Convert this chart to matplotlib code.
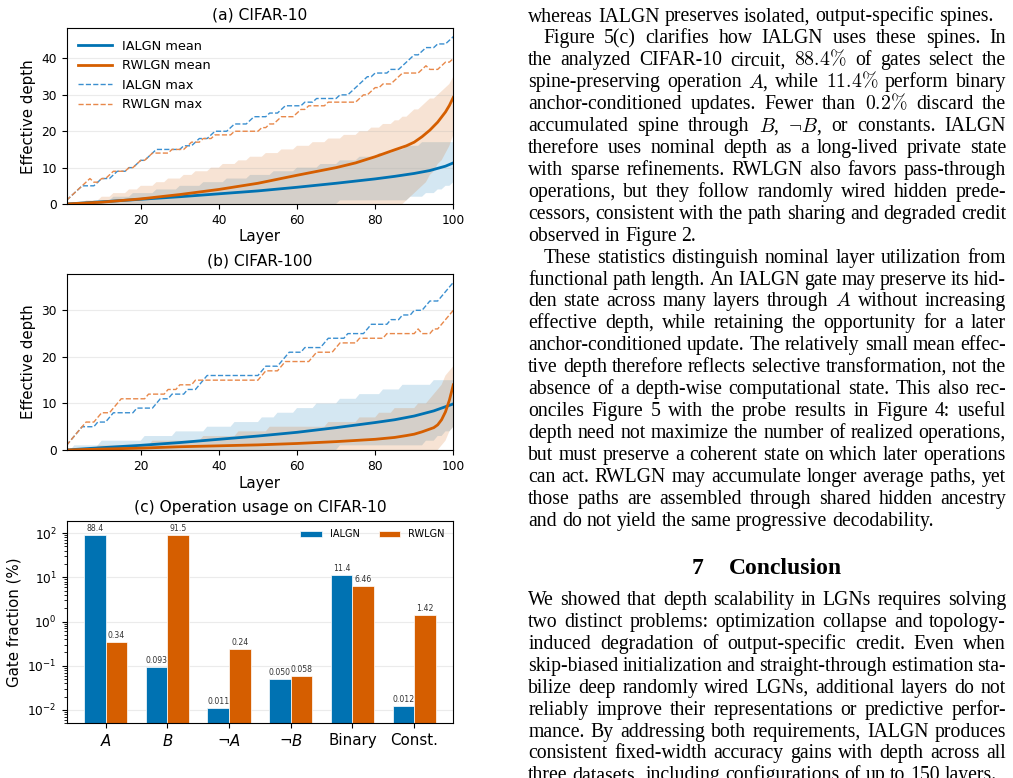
import matplotlib
matplotlib.use('Agg')
import matplotlib.pyplot as plt

W, H = 1013, 778
BLUE = '#0072B2'
ORANGE = '#D55E00'

# ---- (a) CIFAR-10 : effective depth per layer, (layer, value) points
ialgn_mean_a = [(1, 0), (10, 0.6), (20, 1.3), (30, 2.0), (40, 2.8), (50, 3.6), (60, 4.6), (70, 5.7),
                (80, 6.9), (85, 7.6), (90, 8.4), (94, 9.2), (96, 9.8), (98, 10.4), (100, 11.3)]
rwlgn_mean_a = [(1, 0), (10, 0.5), (20, 1.4), (30, 2.6), (40, 4.0), (50, 5.7), (60, 7.9), (70, 10.0),
                (75, 11.3), (80, 13.0), (85, 14.9), (88, 16.0), (90, 17.0), (92, 18.5), (94, 20.3),
                (96, 22.5), (97, 23.9), (98, 25.3), (99, 27.1), (100, 29.3)]
ialgn_max_a = [(1, 1), (2, 2), (3, 3), (4, 4), (5, 5), (8, 5), (9, 6), (10, 7), (12, 7), (13, 8), (14, 9),
               (16, 9), (17, 10), (18, 10), (19, 11), (20, 12), (21, 12), (22, 13), (23, 14), (24, 15),
               (30, 15), (31, 16), (33, 16), (34, 17), (35, 18), (37, 18), (38, 19), (39, 20), (42, 20),
               (43, 21), (44, 22), (47, 22), (48, 23), (49, 24), (52, 24), (53, 25), (55, 25), (56, 26),
               (57, 27), (61, 27), (62, 28), (64, 28), (65, 29), (70, 29), (71, 30), (73, 30), (74, 31),
               (75, 32), (76, 33), (77, 34), (78, 35), (79, 35), (80, 36), (83, 36), (84, 37), (86, 37),
               (87, 38), (88, 39), (89, 40), (90, 41), (91, 41), (92, 42), (93, 43), (95, 43), (96, 44),
               (98, 44), (99, 45), (100, 46)]
rwlgn_max_a = [(1, 1), (2, 2), (3, 3), (4, 4), (5, 5), (6, 6), (7, 7), (8, 6), (9, 6), (10, 7), (11, 7),
               (12, 8), (13, 9), (16, 9), (17, 10), (18, 10), (19, 11), (20, 12), (21, 12), (22, 13),
               (23, 14), (27, 14), (28, 15), (31, 15), (32, 16), (33, 17), (35, 17), (36, 18), (38, 18),
               (39, 19), (43, 19), (44, 20), (50, 20), (51, 21), (52, 21), (53, 22), (54, 22), (55, 23),
               (56, 24), (59, 24), (60, 25), (61, 26), (62, 26), (63, 27), (67, 27), (68, 28), (75, 28),
               (76, 29), (77, 30), (78, 30), (79, 31), (80, 32), (81, 32), (82, 33), (84, 33), (85, 34),
               (86, 35), (87, 36), (91, 36), (92, 37), (93, 38), (94, 37), (96, 37), (97, 38), (98, 39),
               (99, 39), (100, 40)]
ialgn_hi_a = [(1, 0), (7, 0), (8, 1), (12, 1), (13, 2), (17, 2), (18, 3), (23, 3), (24, 4), (29, 4), (30, 5),
              (35, 5), (36, 6), (41, 6), (42, 7), (47, 7), (48, 8), (53, 8), (54, 9), (59, 9), (60, 10),
              (65, 10), (66, 11), (70, 11), (71, 12), (75, 12), (76, 13), (80, 13), (81, 14), (84, 14),
              (85, 15), (87, 15), (88, 16), (91, 16), (92, 17), (100, 17)]
ialgn_lo_a = [(1, 0), (70, 0), (71, 1), (88, 1), (89, 2), (92, 2), (93, 3), (95, 3), (96, 4), (97, 4),
              (98, 5), (99, 5), (100, 6)]
rwlgn_hi_a = [(1, 0), (5, 0), (6, 1), (9, 1), (10, 2), (12, 2), (13, 3), (16, 3), (17, 4), (19, 4), (20, 5),
              (23, 5), (24, 6), (26, 6), (27, 7), (30, 7), (31, 8), (33, 8), (34, 9), (37, 9), (38, 10),
              (40, 10), (41, 11), (44, 11), (45, 12), (47, 12), (48, 13), (51, 13), (52, 14), (55, 14),
              (56, 15), (59, 15), (60, 16), (63, 16), (64, 17), (67, 17), (68, 18), (71, 18), (72, 19),
              (75, 19), (76, 20), (78, 20), (79, 21), (81, 21), (82, 22), (84, 22), (85, 23), (86, 23),
              (87, 24), (88, 24), (89, 25), (90, 26), (91, 26), (92, 27), (93, 28), (94, 29), (95, 29),
              (96, 30), (97, 31), (98, 32), (99, 33), (100, 35)]
rwlgn_lo_a = [(1, 0), (87, 0), (88, 1), (89, 2), (90, 3), (91, 4), (92, 5), (93, 6), (94, 8), (95, 9),
              (96, 11), (97, 12), (98, 14), (99, 16), (100, 19)]

# ---- (b) CIFAR-100
ialgn_mean_b = [(1, 0), (10, 0.5), (20, 1.0), (30, 1.6), (40, 2.3), (50, 3.0), (60, 3.8), (70, 4.8),
                (80, 5.9), (85, 6.5), (90, 7.3), (95, 8.4), (100, 9.9)]
rwlgn_mean_b = [(1, 0), (10, 0.2), (20, 0.4), (30, 0.7), (40, 0.9), (50, 1.1), (60, 1.4), (70, 1.8),
                (80, 2.3), (85, 2.7), (88, 3.1), (90, 3.4), (92, 3.9), (93, 4.2), (95, 4.8), (96, 5.4),
                (97, 6.5), (98, 8.2), (99, 10.7), (100, 14.0)]
ialgn_max_b = [(1, 1), (2, 2), (3, 3), (4, 4), (5, 5), (8, 5), (9, 6), (11, 6), (12, 7), (13, 8), (18, 8),
               (19, 9), (23, 9), (24, 10), (25, 11), (27, 11), (28, 12), (31, 12), (32, 13), (34, 13),
               (35, 14), (36, 15), (37, 16), (50, 16), (51, 17), (52, 18), (55, 18), (56, 19), (57, 20),
               (58, 21), (61, 21), (62, 22), (66, 22), (67, 23), (68, 24), (72, 24), (73, 25), (77, 25),
               (78, 26), (79, 27), (83, 27), (84, 28), (86, 28), (87, 29), (89, 29), (90, 30), (92, 30),
               (93, 31), (94, 32), (96, 32), (97, 33), (98, 34), (99, 35), (100, 36)]
rwlgn_max_b = [(1, 1), (2, 2), (3, 3), (4, 4), (5, 5), (6, 6), (8, 6), (9, 7), (10, 8), (12, 8), (13, 9),
               (14, 10), (15, 11), (21, 11), (22, 12), (26, 12), (27, 13), (29, 13), (30, 14), (33, 14),
               (34, 15), (50, 15), (51, 16), (52, 17), (55, 17), (56, 18), (57, 19), (63, 19), (64, 20),
               (65, 21), (69, 21), (70, 22), (71, 23), (75, 23), (76, 24), (82, 24), (83, 25), (90, 25),
               (91, 26), (92, 25), (94, 25), (95, 26), (96, 26), (97, 27), (98, 28), (99, 29), (100, 30)]
ialgn_hi_b = [(1, 0), (2, 0), (3, 1), (9, 1), (10, 2), (20, 2), (21, 3), (28, 3), (29, 4), (36, 4), (37, 5),
              (43, 5), (44, 6), (50, 6), (51, 7), (54, 7), (55, 8), (59, 8), (60, 9), (64, 9), (65, 10),
              (70, 10), (71, 11), (75, 11), (76, 12), (81, 12), (82, 13), (86, 13), (87, 14), (94, 14),
              (95, 15), (100, 15)]
ialgn_lo_b = [(1, 0), (70, 0), (71, 1), (92, 1), (93, 2), (95, 2), (96, 3), (97, 3), (98, 4), (99, 4),
              (100, 5)]
rwlgn_hi_b = [(1, 0), (8, 0), (9, 1), (22, 1), (23, 2), (35, 2), (36, 3), (44, 3), (45, 4), (52, 4), (53, 5),
              (67, 5), (68, 6), (75, 6), (76, 7), (80, 7), (81, 8), (84, 8), (85, 9), (90, 9), (91, 10),
              (93, 10), (94, 11), (95, 12), (96, 13), (97, 14), (98, 16), (99, 17), (100, 18)]
rwlgn_lo_b = [(1, 0), (96, 0), (97, 1), (98, 2), (99, 4), (100, 5)]

# ---- (c) operation usage
ops = ['$A$', '$B$', r'$\neg A$', r'$\neg B$', 'Binary', 'Const.']
ialgn_usage = [88.4, 0.093, 0.011, 0.050, 11.4, 0.012]
rwlgn_usage = [0.34, 91.5, 0.24, 0.058, 6.46, 1.42]
ialgn_usage_lbl = ['88.4', '0.093', '0.011', '0.050', '11.4', '0.012']
rwlgn_usage_lbl = ['0.34', '91.5', '0.24', '0.058', '6.46', '1.42']

# ---- right column text: (line, first line of paragraph, last line of paragraph)
body_lines = [
    ("whereas IALGN preserves isolated, output-specific spines.", False, True),
    ("Figure 5(c) clarifies how IALGN uses these spines. In", True, False),
    (r"the analyzed CIFAR-10 circuit, $88.4\%$ of gates select the", False, False),
    (r"spine-preserving operation $A$, while $11.4\%$ perform binary", False, False),
    (r"anchor-conditioned updates. Fewer than $0.2\%$ discard the", False, False),
    (r"accumulated spine through $B$, $\neg{B}$, or constants. IALGN", False, False),
    ("therefore uses nominal depth as a long-lived private state", False, False),
    ("with sparse refinements. RWLGN also favors pass-through", False, False),
    ("operations, but they follow randomly wired hidden prede-", False, False),
    ("cessors, consistent with the path sharing and degraded credit", False, False),
    ("observed in Figure 2.", False, True),
    ("These statistics distinguish nominal layer utilization from", True, False),
    ("functional path length. An IALGN gate may preserve its hid-", False, False),
    (r"den state across many layers through $A$ without increasing", False, False),
    ("effective depth, while retaining the opportunity for a later", False, False),
    ("anchor-conditioned update. The relatively small mean effec-", False, False),
    ("tive depth therefore reflects selective transformation, not the", False, False),
    ("absence of a depth-wise computational state. This also rec-", False, False),
    ("onciles Figure 5 with the probe results in Figure 4: useful", False, False),
    ("depth need not maximize the number of realized operations,", False, False),
    ("but must preserve a coherent state on which later operations", False, False),
    ("can act. RWLGN may accumulate longer average paths, yet", False, False),
    ("those paths are assembled through shared hidden ancestry", False, False),
    ("and do not yield the same progressive decodability.", False, True),
]
conclusion_lines = [
    ("We showed that depth scalability in LGNs requires solving", False, False),
    ("two distinct problems: optimization collapse and topology-", False, False),
    ("induced degradation of output-specific credit. Even when", False, False),
    ("skip-biased initialization and straight-through estimation sta-", False, False),
    ("bilize deep randomly wired LGNs, additional layers do not", False, False),
    ("reliably improve their representations or predictive perfor-", False, False),
    ("mance. By addressing both requirements, IALGN produces", False, False),
    ("consistent fixed-width accuracy gains with depth across all", False, False),
    ("three datasets, including configurations of up to 150 layers.", False, True),
]


def px_axes(fig, left, top, right, bottom):
    return fig.add_axes([left / W, 1 - bottom / H, (right - left) / W, (bottom - top) / H])


def unzip(points):
    return [p[0] for p in points], [p[1] for p in points]


def plot_depth(ax, title, mean_i, mean_r, max_i, max_r, hi_i, lo_i, hi_r, lo_r, legend=False):
    for hi, lo, col in [(hi_i, lo_i, BLUE), (hi_r, lo_r, ORANGE)]:
        xh, yh = unzip(hi)
        xl, yl = unzip(lo)
        ax.fill(xh + xl[::-1], yh + yl[::-1], color=col, alpha=0.17, lw=0)
    x, y = unzip(mean_i)
    ax.plot(x, y, color=BLUE, lw=2, label='IALGN mean')
    x, y = unzip(mean_r)
    ax.plot(x, y, color=ORANGE, lw=2, label='RWLGN mean')
    x, y = unzip(max_i)
    ax.plot(x, y, color='#3a8fd0', lw=1, ls='--', label='IALGN max')
    x, y = unzip(max_r)
    ax.plot(x, y, color='#e8884a', lw=1, ls='--', label='RWLGN max')
    ax.set_xlim(1, 100)
    ax.set_ylim(bottom=0)
    ax.set_xticks([20, 40, 60, 80, 100])
    ax.grid(axis='y', alpha=0.25)
    ax.tick_params(labelsize=8.8)
    ax.set_title(title, fontsize=11.2, pad=6)
    ax.set_xlabel('Layer', fontsize=10.8, labelpad=2)
    ax.set_ylabel('Effective depth', fontsize=10.8)
    if legend:
        ax.legend(loc='upper left', frameon=False, fontsize=9.3, handlelength=2.6)


def draw_text_line(fig, renderer, text, x0, x1, y, size, justify):
    words = text.split(' ')
    objs = [fig.text(0, 0, w, fontsize=size, family='Liberation Serif', math_fontfamily='cm',
                     ha='left', va='baseline') for w in words]
    widths = [t.get_window_extent(renderer).width for t in objs]
    if justify and len(words) > 1:
        gap = (x1 - x0 - sum(widths)) / (len(words) - 1)
    else:
        gap = 0.25 * size * fig.dpi / 72
    x = x0
    for t, w in zip(objs, widths):
        t.set_position((x / W, 1 - y / H))
        x += w + gap


def main():
    fig = plt.figure(figsize=(W / 100, H / 100), dpi=100)

    ax_a = px_axes(fig, 66.5, 28.3, 453.3, 204)
    plot_depth(ax_a, '(a) CIFAR-10', ialgn_mean_a, rwlgn_mean_a, ialgn_max_a, rwlgn_max_a,
               ialgn_hi_a, ialgn_lo_a, rwlgn_hi_a, rwlgn_lo_a, legend=True)
    ax_b = px_axes(fig, 66.5, 274, 453.3, 450)
    plot_depth(ax_b, '(b) CIFAR-100', ialgn_mean_b, rwlgn_mean_b, ialgn_max_b, rwlgn_max_b,
               ialgn_hi_b, ialgn_lo_b, rwlgn_hi_b, rwlgn_lo_b)

    ax_c = px_axes(fig, 66.5, 520.7, 453.3, 723.3)
    pos = list(range(len(ops)))
    w = 0.35
    b1 = ax_c.bar([p - w / 2 for p in pos], ialgn_usage, w, color=BLUE, edgecolor='white', lw=0.5, label='IALGN')
    b2 = ax_c.bar([p + w / 2 for p in pos], rwlgn_usage, w, color=ORANGE, edgecolor='white', lw=0.5, label='RWLGN')
    ax_c.set_yscale('log')
    ax_c.set_ylim(5e-3, 190)
    ax_c.bar_label(b1, labels=ialgn_usage_lbl, padding=1.5, fontsize=5.6, color='#333333')
    ax_c.bar_label(b2, labels=rwlgn_usage_lbl, padding=1.5, fontsize=5.6, color='#333333')
    ax_c.set_xticks(pos)
    ax_c.set_xticklabels(ops, fontsize=10.8)
    ax_c.tick_params(axis='y', labelsize=8.8)
    ax_c.grid(axis='y', which='major', alpha=0.25)
    ax_c.set_axisbelow(True)
    ax_c.set_ylabel('Gate fraction (%)', fontsize=10.8)
    ax_c.set_title('(c) Operation usage on CIFAR-10', fontsize=11.2, pad=6)
    ax_c.legend(loc='upper right', ncol=2, frameon=False, fontsize=7, handlelength=2.2,
                columnspacing=2.0)

    # right column of the page
    renderer = fig.canvas.get_renderer()
    left, right, size = 528.3, 1006, 14.2
    lead = 21.92
    for i, (line, first, last) in enumerate(body_lines):
        x0 = left + (15 if first else 0)
        draw_text_line(fig, renderer, line, x0, right, 21.5 + i * lead, size, not last)
    fig.text(691.7 / W, 1 - 574 / H, '7', fontsize=17, weight='bold', family='Liberation Serif', va='baseline')
    fig.text(729.3 / W, 1 - 574 / H, 'Conclusion', fontsize=17, weight='bold', family='Liberation Serif',
             va='baseline')
    for i, (line, first, last) in enumerate(conclusion_lines):
        draw_text_line(fig, renderer, line, left, right, 605 + i * lead, size, not last)

    fig.savefig('out.png', dpi=100)
    plt.close(fig)


if __name__ == "__main__":
    main()
